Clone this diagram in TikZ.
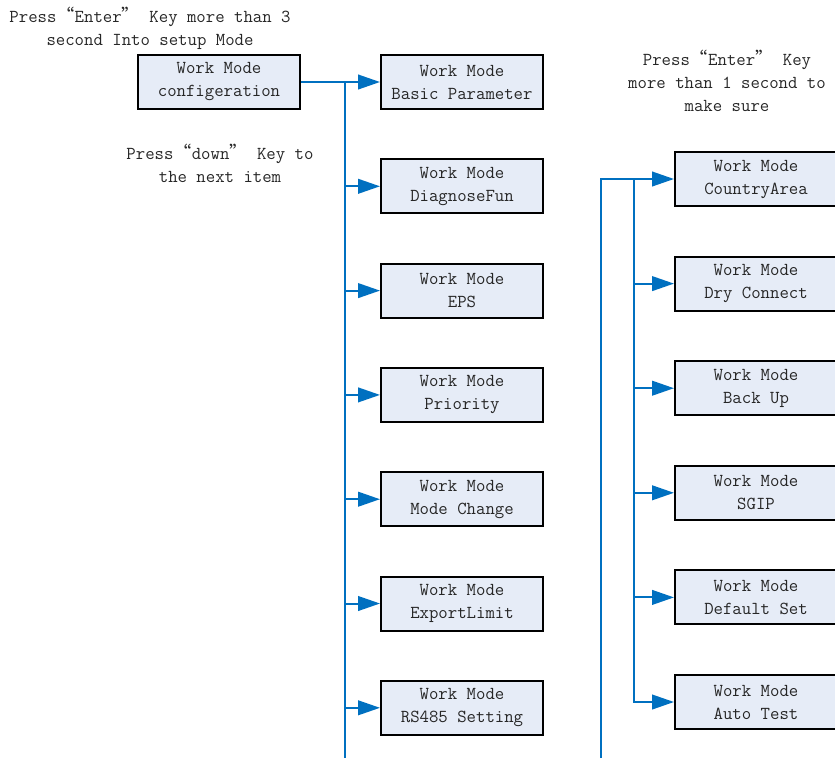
\documentclass[tikz,border=0pt]{standalone}
\usepackage{fontspec}
\newfontfamily\cjkq{Noto Sans CJK SC}
\usepackage{tikz}
\usetikzlibrary{arrows.meta,positioning}
\definecolor{linkblue}{RGB}{0,112,192}
\definecolor{boxfill}{RGB}{230,236,247}
\newcommand{\lqm}{{\cjkq “}}
\newcommand{\rqm}{{\cjkq ”}}

\begin{document}
\begin{tikzpicture}[x=0.75pt,y=-0.75pt,>={Triangle[length=16.5pt,width=11pt]},
 every node/.style={font=\ttfamily\fontsize{13.7pt}{17.25pt}\selectfont,text=black!85},
 menu/.style={rectangle,draw=black,line width=1.5pt,fill=boxfill,minimum width=121.5pt,
  minimum height=40.5pt,inner sep=0pt,align=center},
 note/.style={align=center,inner sep=0pt},
 link/.style={draw=linkblue,line width=1.5pt}]
\useasboundingbox (0,0) rectangle (835,758);
% setup entry
\node[note] (enter) at (150,28) {Press\lqm Enter\rqm{} Key more than 3\\second Into setup Mode};
\node[menu] (cfg) at (219,82) {Work Mode\\configeration};
\node[note] (down) at (220,163) {Press\lqm down\rqm{} Key to\\the next item};
% first level items
\foreach \i/\t in {1/Basic Parameter,2/DiagnoseFun,3/EPS,4/Priority,5/Mode Change,6/ExportLimit,7/RS485 Setting}
 {\node[menu] (l\i) at (462,{82+104.3*(\i-1)}) {Work Mode\\\t};}
\coordinate (ltop) at (345,82);
\coordinate (lbot) at (345,758);
\draw[link] (ltop) -- (lbot);
\draw[link,->] (cfg.east) -- (l1.west);
\foreach \i in {2,...,7}{\draw[link,->] (ltop |- l\i.west) -- (l\i.west);}
% second level items
\node[note] (sure) at (727,81) {Press\lqm Enter\rqm{} Key\\more than 1 second to\\make sure};
\foreach \i/\t in {1/CountryArea,2/Dry Connect,3/Back Up,4/SGIP,5/Default Set,6/Auto Test}
 {\node[menu] (r\i) at (756,{179+104.6*(\i-1)}) {Work Mode\\\t};}
\coordinate (rin) at (601,758);
\coordinate (rtop) at (634,179);
\draw[link,->] (rin) |- (r1.west);
\draw[link,->] (rtop) |- (r6.west);
\foreach \i in {2,...,5}{\draw[link,->] (rtop |- r\i.west) -- (r\i.west);}
\end{tikzpicture}
\end{document}
